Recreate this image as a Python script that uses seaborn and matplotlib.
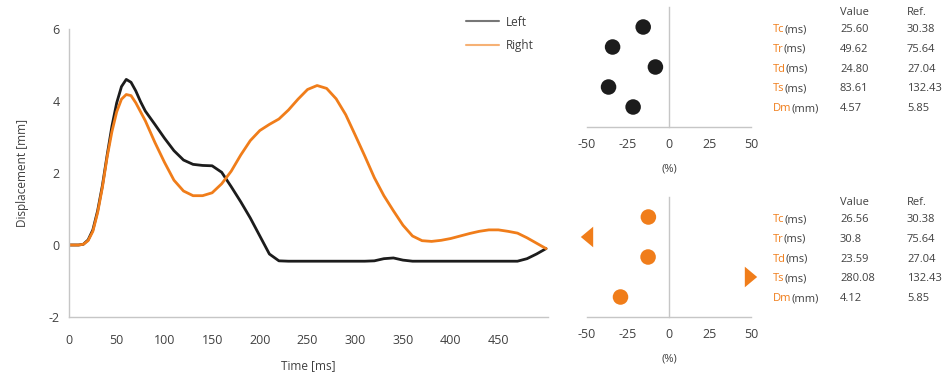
import numpy as np
import pandas as pd
import matplotlib
matplotlib.use("Agg")
import matplotlib.pyplot as plt
import seaborn as sns

sns.set_style("white")
plt.rcParams['font.family'] = ['Open Sans', 'DejaVu Sans']
plt.rcParams['axes.unicode_minus'] = False

# ---- data ----
time_ms = [0, 10, 15, 20, 25, 30, 35, 40, 45, 50, 55, 60, 65, 70, 75, 80, 90,
           100, 110, 120, 130, 140, 150, 160, 170, 180, 190, 200, 210, 220,
           230, 240, 250, 260, 270, 280, 290, 300, 310, 320, 330, 340, 350,
           360, 370, 380, 390, 400, 410, 420, 430, 440, 450, 460, 470, 480,
           490, 500]
left_mm = [0, 0, 0.02, 0.14, 0.42, 0.95, 1.65, 2.5, 3.3, 3.95, 4.4, 4.6, 4.52,
           4.28, 3.98, 3.72, 3.35, 2.97, 2.62, 2.36, 2.24, 2.21, 2.2, 2.02,
           1.62, 1.2, 0.75, 0.25, -0.25, -0.44, -0.45, -0.45, -0.45, -0.45,
           -0.45, -0.45, -0.45, -0.45, -0.45, -0.44, -0.38, -0.36, -0.42,
           -0.45, -0.45, -0.45, -0.45, -0.45, -0.45, -0.45, -0.45, -0.45,
           -0.45, -0.45, -0.45, -0.38, -0.25, -0.1]
right_mm = [0, 0, 0.02, 0.12, 0.38, 0.9, 1.6, 2.45, 3.15, 3.7, 4.05, 4.18,
            4.15, 3.95, 3.7, 3.45, 2.85, 2.3, 1.8, 1.5, 1.37, 1.37, 1.45, 1.7,
            2.05, 2.5, 2.9, 3.18, 3.35, 3.5, 3.75, 4.05, 4.32, 4.43, 4.35,
            4.06, 3.62, 3.05, 2.47, 1.87, 1.37, 0.95, 0.55, 0.25, 0.12, 0.1,
            0.13, 0.18, 0.25, 0.32, 0.38, 0.42, 0.42, 0.38, 0.33, 0.2, 0.05,
            -0.1]

params = ["Tc", "Tr", "Td", "Ts", "Dm"]
units = ["(ms)", "(ms)", "(ms)", "(ms)", "(mm)"]
left_values = [25.60, 49.62, 24.80, 83.61, 4.57]
right_values = [26.56, 30.8, 23.59, 280.08, 4.12]
ref_values = [30.38, 75.64, 27.04, 132.43, 5.85]
left_text = ["25.60", "49.62", "24.80", "83.61", "4.57"]
right_text = ["26.56", "30.8", "23.59", "280.08", "4.12"]
ref_text = ["30.38", "75.64", "27.04", "132.43", "5.85"]

BLACK = "#1c1c1c"
ORANGE = "#f07d1a"
SPINE = "#c6c6c6"
TXT = "#404040"
W, H = 949, 385

fig = plt.figure(figsize=(9.49, 3.85), dpi=100)
renderer = fig.canvas.get_renderer()


def style_axes(ax):
    for s in ["top", "right"]:
        ax.spines[s].set_visible(False)
    for s in ["left", "bottom"]:
        ax.spines[s].set_color(SPINE)
        ax.spines[s].set_linewidth(1)
    ax.tick_params(colors=SPINE, labelcolor=TXT, length=3, width=1,
                   labelsize=9)


# ---- main displacement plot ----
ax = fig.add_axes([69 / W, 1 - 317 / H, (548 - 69) / W, (317 - 29) / H])
n = len(time_ms)
df = pd.DataFrame({
    "Time": time_ms * 2,
    "Displacement": left_mm + right_mm,
    "Side": ["Left"] * n + ["Right"] * n,
})
sns.lineplot(data=df, x="Time", y="Displacement", hue="Side",
             palette={"Left": BLACK, "Right": ORANGE}, linewidth=2, ax=ax)
ax.set_xlim(0, 502)
ax.set_ylim(-2, 6)
ax.set_xticks(range(0, 451, 50))
ax.set_yticks([-2, 0, 2, 4, 6])
style_axes(ax)
ax.tick_params(axis="x", pad=9)
ax.set_xlabel("Time [ms]", fontsize=8.5, color=TXT, labelpad=9)
ax.set_ylabel("Displacement [mm]", fontsize=8.5, color=TXT, labelpad=14)
leg = ax.legend(loc="upper left", bbox_to_anchor=(455 / W, 1 - 5 / H),
                bbox_transform=fig.transFigure, frameon=False, fontsize=8.5,
                handlelength=2.8, labelspacing=0.9, handletextpad=0.6)
for line in leg.get_lines():
    line.set_linewidth(1.5)
    line.set_alpha(0.6)
for t in leg.get_texts():
    t.set_color(TXT)


# ---- deviation panels ----
def deviation_panel(top_px, values, texts, color):
    axd = fig.add_axes([587 / W, 1 - (top_px + 120) / H, 164 / W, 120 / H])
    pct = [(v - r) / r * 100 for v, r in zip(values, ref_values)]
    rows = list(range(1, len(pct) + 1))
    inside = [(p, r) for p, r in zip(pct, rows) if -50 <= p <= 50]
    low = [r for p, r in zip(pct, rows) if p < -50]
    high = [r for p, r in zip(pct, rows) if p > 50]
    sns.scatterplot(x=[p for p, _ in inside], y=[r for _, r in inside],
                    s=125, color=color, edgecolor="none", ax=axd)
    if low:
        sns.scatterplot(x=[-50] * len(low), y=low, s=220, color=color,
                        edgecolor="none", ax=axd, clip_on=False,
                        marker=[(-0.6, 0), (0.6, 1), (0.6, -1)])
    if high:
        sns.scatterplot(x=[50] * len(high), y=high, s=220, color=color,
                        edgecolor="none", ax=axd, clip_on=False,
                        marker=[(0.6, 0), (-0.6, 1), (-0.6, -1)])
    axd.set_xlim(-50, 50)
    axd.set_ylim(6, 0)
    axd.set_xticks([-50, -25, 0, 25, 50])
    axd.set_yticks(rows)
    axd.set_yticklabels([])
    style_axes(axd)
    axd.spines["left"].set_position(("data", 0))
    axd.tick_params(axis="y", direction="out", length=2)
    axd.tick_params(axis="x", pad=5)
    axd.set_xlabel("(%)", fontsize=8, color=TXT, labelpad=9)
    axd.set_ylabel("")

    # table to the right
    fs = 8
    hy = top_px + 8
    fig.text(840 / W, 1 - hy / H, "Value", fontsize=fs, color=TXT,
             va="baseline", ha="left")
    fig.text(907 / W, 1 - hy / H, "Ref.", fontsize=fs, color=TXT,
             va="baseline", ha="left")
    for i, (p, u) in enumerate(zip(params, units)):
        y = 1 - (top_px + 25 + 19.8 * i) / H
        t1 = fig.text(773 / W, y, p, fontsize=fs, color=ORANGE,
                      va="baseline", ha="left")
        x_end = t1.get_window_extent(renderer).x1 / W
        fig.text(x_end, y, u, fontsize=fs, color=TXT, va="baseline",
                 ha="left")
        fig.text(840 / W, y, texts[i], fontsize=fs, color=TXT,
                 va="baseline", ha="left")
        fig.text(907 / W, y, ref_text[i], fontsize=fs, color=TXT,
                 va="baseline", ha="left")


deviation_panel(7, left_values, left_text, BLACK)
deviation_panel(197, right_values, right_text, ORANGE)

fig.savefig("out.png", dpi=100)
